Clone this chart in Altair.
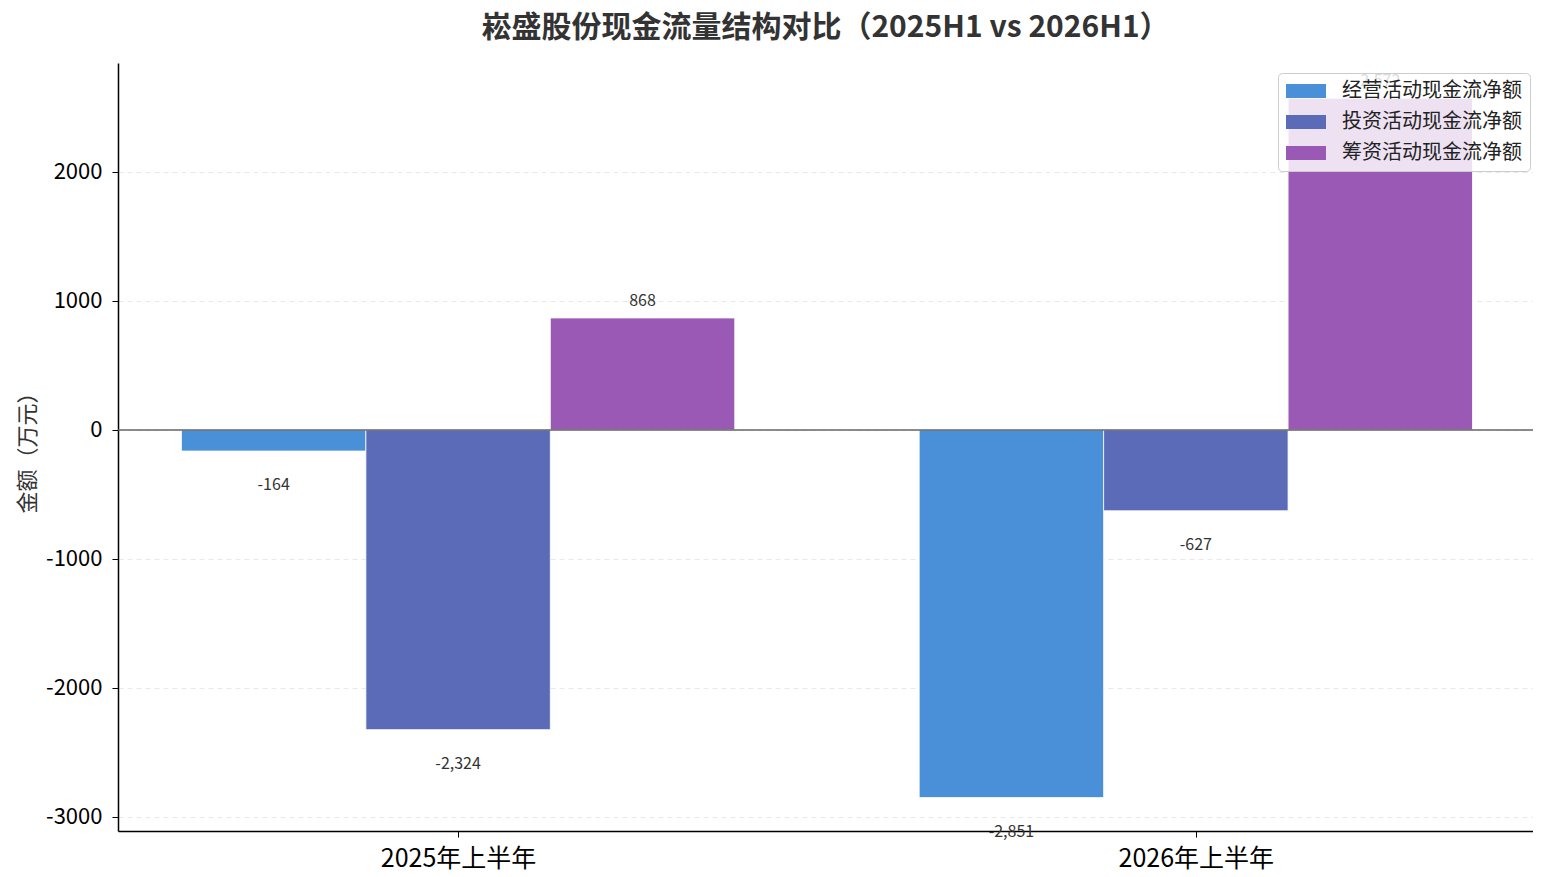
import altair as alt
import pandas as pd

periods = ["2025年上半年", "2026年上半年"]
series = ["经营活动现金流净额", "投资活动现金流净额", "筹资活动现金流净额"]
colors = ["#4a90d9", "#5b6bb8", "#9b59b6"]
operating = [-164, -2851]
investing = [-2324, -627]
financing = [868, 2572]

rows = []
for si, (name, vals) in enumerate(zip(series, [operating, investing, financing])):
    for gi, v in enumerate(vals):
        rows.append({"period": periods[gi], "gi": gi, "series": name, "si": si,
                     "value": v, "label": f"{v:,.0f}"})
source = pd.DataFrame(rows)

font = "Noto Sans CJK SC"
bar_w = 0.25

base = alt.Chart(source).transform_calculate(
    xc=f"datum.gi + (datum.si - 1) * {bar_w}",
    x0=f"datum.gi + (datum.si - 1) * {bar_w} - {bar_w / 2}",
    x1=f"datum.gi + (datum.si - 1) * {bar_w} + {bar_w / 2}",
)

x_label_expr = " : ".join(
    f"datum.value == {i} ? '{p}'" for i, p in enumerate(periods)
) + " : ''"

x_scale = alt.Scale(domain=[-0.461, 1.457], nice=False, zero=False)
y_scale = alt.Scale(domain=[-3110, 2845], nice=False, zero=False)

bars = base.mark_bar(stroke="white", strokeWidth=0.8).encode(
    x=alt.X("x0:Q", scale=x_scale, title=None,
            axis=alt.Axis(values=[0, 1], labelExpr=x_label_expr, grid=False,
                          domainColor="#000", domainWidth=1.5, tickColor="#000",
                          tickSize=6, labelFontSize=25, labelColor="#000",
                          labelPadding=9, labelFont=font)),
    x2="x1:Q",
    y=alt.Y("value:Q", scale=y_scale, title="金额（万元）",
            axis=alt.Axis(values=[-3000, -2000, -1000, 0, 1000, 2000],
                          labelExpr="'' + datum.value", grid=True,
                          gridDash=[5, 4], gridColor="#e8e8e8",
                          domainColor="#000", domainWidth=1.5, tickColor="#000",
                          tickSize=6, labelFontSize=22, labelColor="#000",
                          labelPadding=10, labelFont=font, titleFont=font,
                          titleFontSize=22, titleFontWeight="normal",
                          titleColor="#333", titlePadding=6)),
    y2=alt.datum(0),
    color=alt.Color("series:N", scale=alt.Scale(domain=series, range=colors),
                    title=None,
                    legend=alt.Legend(orient="none", legendX=1160, legendY=10,
                                      symbolType="M-2,-0.7L2,-0.7L2,0.7L-2,0.7Z",
                                      symbolSize=400, symbolStrokeWidth=0,
                                      symbolOffset=10,
                                      labelFontSize=20, labelFont=font,
                                      labelColor="#222", labelOffset=26,
                                      labelLimit=0,
                                      rowPadding=11, padding=8,
                                      fillColor="rgba(255,255,255,0.82)",
                                      strokeColor="#cccccc", cornerRadius=4)),
)

zero = alt.Chart(pd.DataFrame({"z": [0]})).mark_rule(color="#666", strokeWidth=1.5).encode(
    y=alt.Y("z:Q", scale=y_scale)
)

pos_text = base.transform_filter("datum.value >= 0").mark_text(
    font=font, fontSize=16, color="#333", baseline="middle", dy=-17
).encode(x=alt.X("xc:Q", scale=x_scale), y=alt.Y("value:Q", scale=y_scale), text="label:N")

neg_text = base.transform_filter("datum.value < 0").mark_text(
    font=font, fontSize=16, color="#333", baseline="middle", dy=34
).encode(x=alt.X("xc:Q", scale=x_scale), y=alt.Y("value:Q", scale=y_scale), text="label:N")

chart = alt.layer(bars, zero, pos_text, neg_text).properties(
    width=1415,
    height=768,
    autosize=alt.AutoSizeParams(type="none"),
    padding={"left": 110, "top": 55, "right": 0, "bottom": 46},
    title=alt.TitleParams("崧盛股份现金流量结构对比（2025H1 vs 2026H1）",
                          font=font, fontSize=30, fontWeight="bold",
                          color="#333", anchor="middle", offset=20),
).configure_view(stroke=None)

chart.save("out.html", embed_options={"renderer": "svg", "actions": False})
